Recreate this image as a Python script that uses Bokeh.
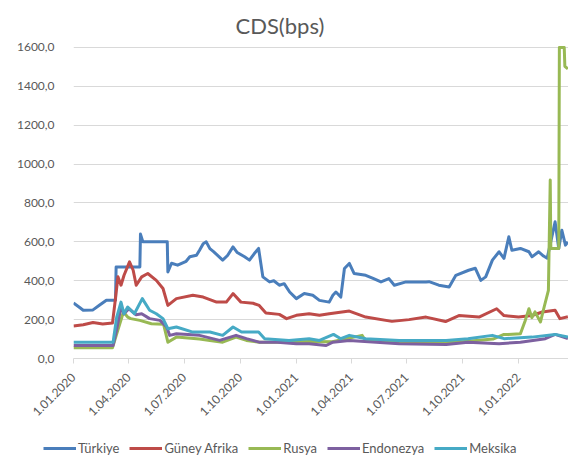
import pandas as pd
from bokeh.plotting import figure
from bokeh.layouts import column
from bokeh.models import (FixedTicker, CustomJSTickFormatter, Legend, LegendItem,
                          Range1d, Title)
from bokeh.embed import file_html
from bokeh.resources import INLINE

# ---------------- data ----------------
tr_dates = ["2020-01-01", "2020-01-10", "2020-01-17", "2020-02-02", "2020-02-13", "2020-02-24",
            "2020-03-10", "2020-03-11", "2020-04-19", "2020-04-20", "2020-04-24", "2020-06-03",
            "2020-06-04", "2020-06-10", "2020-06-20", "2020-07-04", "2020-07-10", "2020-07-21",
            "2020-07-26", "2020-08-01", "2020-08-06", "2020-08-12", "2020-08-18", "2020-09-02",
            "2020-09-10", "2020-09-19", "2020-09-26", "2020-10-08", "2020-10-16", "2020-10-24",
            "2020-10-31", "2020-11-07", "2020-11-18", "2020-11-25", "2020-12-04", "2020-12-12",
            "2020-12-21", "2021-01-01", "2021-01-14", "2021-01-28", "2021-02-08", "2021-02-24",
            "2021-03-02", "2021-03-07", "2021-03-15", "2021-03-21", "2021-03-29", "2021-04-06",
            "2021-04-25", "2021-05-08", "2021-05-20", "2021-06-02", "2021-06-11", "2021-06-30",
            "2021-07-20", "2021-08-02", "2021-08-07", "2021-08-23", "2021-09-09", "2021-09-20",
            "2021-10-11", "2021-10-22", "2021-10-31", "2021-11-08", "2021-11-19", "2021-11-30",
            "2021-12-08", "2021-12-16", "2021-12-21", "2022-01-04", "2022-01-18", "2022-01-23",
            "2022-02-03", "2022-02-11", "2022-02-17", "2022-03-02", "2022-03-08", "2022-03-13",
            "2022-03-19", "2022-03-23"]
tr_vals = [285, 265, 248, 250, 275, 300,
           300, 471, 471, 640, 600, 600,
           445, 490, 480, 500, 523, 531,
           557, 590, 600, 565, 550, 506,
           530, 574, 545, 523, 506, 540,
           566, 420, 394, 400, 377, 385,
           342, 308, 334, 325, 299, 290,
           325, 342, 316, 463, 489, 437,
           428, 411, 394, 411, 377, 394,
           394, 394, 395, 377, 368, 428,
           454, 464, 402, 420, 506, 549,
           515, 626, 557, 566, 549, 523,
           549, 527, 516, 703, 566, 660,
           583, 600]

za_dates = ["2020-01-01", "2020-01-17", "2020-02-02", "2020-02-18", "2020-03-05", "2020-03-09",
            "2020-03-14", "2020-03-19", "2020-03-24", "2020-04-02", "2020-04-08", "2020-04-13",
            "2020-04-22", "2020-05-02", "2020-05-16", "2020-05-27", "2020-06-04", "2020-06-18",
            "2020-07-15", "2020-08-01", "2020-08-23", "2020-09-08", "2020-09-19", "2020-10-02",
            "2020-10-22", "2020-11-01", "2020-11-12", "2020-12-04", "2020-12-16", "2021-01-01",
            "2021-01-22", "2021-02-08", "2021-02-24", "2021-03-29", "2021-04-25", "2021-06-07",
            "2021-07-05", "2021-08-02", "2021-09-03", "2021-09-25", "2021-10-28", "2021-11-26",
            "2021-12-08", "2022-01-01", "2022-01-23", "2022-02-09", "2022-03-02", "2022-03-10",
            "2022-03-23"]
za_vals = [167, 174, 185, 178, 182, 284,
           420, 377, 428, 497, 454, 377,
           420, 437, 402, 360, 273, 308,
           325, 316, 290, 290, 334, 290,
           284, 273, 234, 227, 205, 222,
           230, 222, 230, 244, 213, 191,
           200, 213, 190, 221, 213, 256,
           221, 213, 221, 239, 248, 205,
           215]

ru_dates = ["2020-01-01", "2020-03-05", "2020-03-12", "2020-03-23", "2020-03-30", "2020-04-04",
            "2020-04-19", "2020-05-08", "2020-05-28", "2020-06-04", "2020-06-18", "2020-07-26",
            "2020-08-12", "2020-09-02", "2020-09-24", "2020-10-11", "2020-11-01", "2020-12-05",
            "2021-01-22", "2021-03-01", "2021-04-19", "2021-04-25", "2021-07-01", "2021-10-01",
            "2021-11-20", "2021-12-08", "2021-12-15", "2022-01-04", "2022-01-12", "2022-01-18",
            "2022-01-23", "2022-01-28", "2022-02-06", "2022-02-12", "2022-02-19", "2022-02-22",
            "2022-02-23", "2022-03-08", "2022-03-09", "2022-03-17", "2022-03-18", "2022-03-23"]
ru_vals = [55, 55, 127, 239, 213, 205,
           196, 179, 176, 84, 110, 100,
           93, 84, 110, 93, 84, 84,
           88, 86, 119, 90, 86, 86,
           100, 124, 124, 127, 196, 256,
           210, 240, 188, 265, 351, 918,
           566, 566, 1600, 1600, 1503, 1490]

id_dates = ["2020-01-01", "2020-03-06", "2020-03-12", "2020-03-19", "2020-03-24", "2020-04-01",
            "2020-04-13", "2020-04-22", "2020-05-05", "2020-05-22", "2020-06-02", "2020-06-07",
            "2020-06-18", "2020-07-26", "2020-08-28", "2020-09-24", "2020-10-11", "2020-11-01",
            "2020-12-01", "2021-01-01", "2021-01-22", "2021-02-19", "2021-03-02", "2021-03-29",
            "2021-06-19", "2021-09-04", "2021-10-10", "2021-11-30", "2022-01-04", "2022-02-14",
            "2022-03-02", "2022-03-23"]
id_vals = [67, 67, 150, 265, 230, 256,
           225, 230, 205, 196, 162, 119,
           127, 119, 93, 119, 102, 84,
           84, 76, 76, 67, 84, 93,
           76, 72, 84, 76, 84, 102,
           124, 102]

mx_dates = ["2020-01-01", "2020-03-06", "2020-03-12", "2020-03-19", "2020-03-24", "2020-03-30",
            "2020-04-10", "2020-04-23", "2020-05-05", "2020-05-16", "2020-05-27", "2020-06-04",
            "2020-06-18", "2020-07-15", "2020-08-12", "2020-09-02", "2020-09-19", "2020-10-03",
            "2020-10-31", "2020-11-10", "2020-12-20", "2021-01-22", "2021-02-08", "2021-03-03",
            "2021-03-15", "2021-03-29", "2021-04-25", "2021-06-19", "2021-09-04", "2021-10-10",
            "2021-11-19", "2021-12-08", "2022-01-23", "2022-03-02", "2022-03-23"]
mx_vals = [84, 84, 213, 290, 230, 265,
           230, 308, 248, 230, 205, 153,
           162, 136, 136, 119, 162, 136,
           136, 102, 93, 102, 93, 124,
           102, 119, 102, 93, 93, 102,
           119, 102, 110, 124, 110]

series_names = ["Türkiye", "Güney Afrika", "Rusya", "Endonezya", "Meksika"]
series_colors = ["#4A7EBB", "#BE4B48", "#98B954", "#7D60A0", "#46AAC5"]

x_tick_dates = ["2020-01-01", "2020-04-01", "2020-07-01", "2020-10-01", "2021-01-01",
                "2021-04-01", "2021-07-01", "2021-10-01", "2022-01-01"]
y_ticks = [0, 200, 400, 600, 800, 1000, 1200, 1400, 1600]

x_start, x_end = "2020-01-01", "2022-03-24"

# ---------------- figure ----------------
FONT = "Lato"
GREY_TXT = "#595959"
GRID = "#D9D9D9"

def ms(d):
    return pd.Timestamp(d).value / 1e6

p = figure(width=568, height=432, x_axis_type="datetime", output_backend="svg",
           toolbar_location=None, min_border_left=73, min_border_right=0,
           min_border_top=45, min_border_bottom=74,
           x_range=Range1d(ms(x_start), ms(x_end)), y_range=Range1d(0, 1610))
p.outline_line_color = None
p.background_fill_color = "white"
p.border_fill_color = "white"

title = Title(text="CDS(bps)", align="left", offset=162, standoff=13, text_font=FONT,
              text_font_size="22px", text_font_style="normal", text_color=GREY_TXT)
p.add_layout(title, "above")

p.xgrid.grid_line_color = None
p.ygrid.grid_line_color = GRID
p.ygrid.grid_line_width = 1

p.yaxis.ticker = FixedTicker(ticks=y_ticks)
p.yaxis.formatter = CustomJSTickFormatter(code="return tick.toFixed(1).replace('.', ',');")
p.yaxis.axis_line_color = None
p.yaxis.major_tick_line_color = None
p.yaxis.minor_tick_line_color = None
p.yaxis.major_label_standoff = 13
p.yaxis.major_label_text_font = FONT
p.yaxis.major_label_text_font_size = "12px"
p.yaxis.major_label_text_color = GREY_TXT

p.xaxis.ticker = FixedTicker(ticks=[ms(d) for d in x_tick_dates])
p.xaxis.formatter = CustomJSTickFormatter(code="""
const d = new Date(tick);
const m = d.getUTCMonth() + 1;
return d.getUTCDate() + '.' + (m < 10 ? '0' + m : m) + '.' + d.getUTCFullYear();
""")
p.xaxis.axis_line_color = GRID
p.xaxis.major_tick_line_color = GRID
p.xaxis.major_tick_out = 5
p.xaxis.major_tick_in = 0
p.xaxis.minor_tick_line_color = None
p.xaxis.major_label_orientation = 0.785398
p.xaxis.major_label_standoff = 12
p.xaxis.major_label_text_font = FONT
p.xaxis.major_label_text_font_size = "12px"
p.xaxis.major_label_text_color = GREY_TXT

# legend strip below the chart (a frame of its own, so the legend can start left of the plot area);
# its ranges lie far away from the data, so its key lines show only in the legend
pl = figure(width=568, height=30, output_backend="svg", toolbar_location=None,
            x_axis_location=None, y_axis_location=None, min_border=0,
            x_range=Range1d(0, 1), y_range=Range1d(-2, -1))
pl.outline_line_color = None
pl.grid.grid_line_color = None
if hasattr(pl, "frame_align"):
    pl.frame_align = False
    p.frame_align = False

all_dates = [tr_dates, za_dates, ru_dates, id_dates, mx_dates]
all_vals = [tr_vals, za_vals, ru_vals, id_vals, mx_vals]
items = []
for name, col, ds, vs in zip(series_names, series_colors, all_dates, all_vals):
    p.line(pd.to_datetime(ds), vs, line_color=col, line_width=3, line_join="round")
    key = pl.line(pd.to_datetime(ds), vs, line_color=col, line_width=3)
    items.append(LegendItem(label=name, renderers=[key]))

legend = Legend(items=items, orientation="horizontal", location=(43, 4),
                glyph_width=33, glyph_height=20, label_standoff=2, spacing=10,
                padding=0, margin=0, border_line_color=None, background_fill_alpha=0,
                label_text_font=FONT, label_text_font_size="13px",
                label_text_color=GREY_TXT)
pl.add_layout(legend)

layout = column(p, pl, spacing=0)
open("out.html", "w").write(file_html(layout, INLINE))
